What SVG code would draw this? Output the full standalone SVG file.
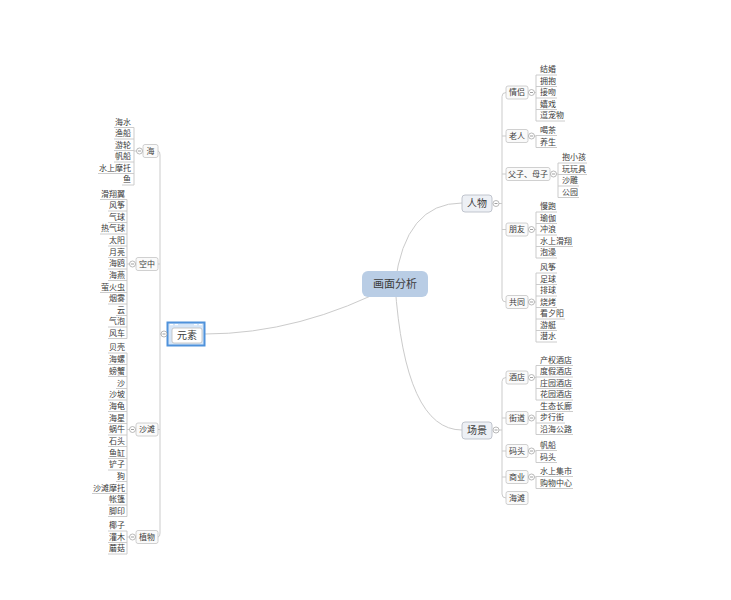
<svg xmlns="http://www.w3.org/2000/svg" xmlns:xlink="http://www.w3.org/1999/xlink" width="731" height="600" viewBox="0 0 731 600">
<style>
text{font-family:"Liberation Sans","Noto Sans CJK SC",sans-serif;dominant-baseline:central;fill:#3c3c3c}
.l{font-size:8px}
.e{text-anchor:end}
.m{text-anchor:middle}
.ln{fill:none;stroke:#cbcbcb;stroke-width:1}
.u{fill:none;stroke:#c6c6c6;stroke-width:0.9}
.bx{fill:#fafafa;stroke:#c4c4c4;stroke-width:0.8}
.mb{fill:#edf0f5;stroke:#babec8;stroke-width:0.9}
.cc{fill:#fff;stroke:#9c9c9c;stroke-width:0.7}
</style>
<defs>
<g id="cl"><circle r="3" class="cc"/><path d="M-1.5 0H1.5" stroke="#777" stroke-width="0.7"/></g>
</defs>
<rect width="731" height="600" fill="#fff"/>
<g id="connectors">
<path class="ln" d="M395 284Q405 203 462 203"/>
<path class="ln" d="M395 284Q405 430 462 430"/>
<path class="ln" d="M395 284Q300 334 205 334"/>
<!-- 人物 -->
<path class="ln" d="M499 203.5H502M506 92.5Q502 92.5 502 96.5V298Q502 302 506 302M502 136H506M502 174H506M502 229.5H506"/>
<!-- 场景 -->
<path class="ln" d="M499 430H502M506 377.5Q502 377.5 502 381.5V494Q502 498 506 498M502 418H506M502 451H506M502 477H506"/>
<!-- 元素 -->
<path class="ln" d="M161 334H160M158 151Q160 151 160 155V533Q160 537 158 537M158 264H160M158 429.5H160"/>
<!-- right leaf spines -->
<path class="ln" d="M534.5 92.5H536M536 75V121"/>
<path class="ln" d="M534.5 136H536M536 135.5V147.5"/>
<path class="ln" d="M556.5 174H558M558 163V197.5"/>
<path class="ln" d="M534.5 229.5H536M536 212V258"/>
<path class="ln" d="M534.5 302H536M536 273V342"/>
<path class="ln" d="M534.5 377.5H536M536 365.5V400"/>
<path class="ln" d="M534.5 418H536M536 411.5V434.5"/>
<path class="ln" d="M534.5 451H536M536 450.5V462.5"/>
<path class="ln" d="M534.5 477H536M536 476.5V488.5"/>
<!-- left leaf spines -->
<path class="ln" d="M136.5 151H134M134 127.5V185"/>
<path class="ln" d="M129.5 264H127M127 199.5V338.5"/>
<path class="ln" d="M129.5 429.5H127M127 353V516.5"/>
<path class="ln" d="M129.5 537H127M127 531V554"/>
</g>

<g id="center"><rect x="362" y="271" width="66" height="26" rx="6" fill="#b9cde5"/><text class="m" x="395" y="284" font-size="11">画面分析</text></g>

<g id="renwu"><rect class="mb" x="462" y="195" width="30" height="17" rx="3"/><text class="m" x="477" y="203.5" font-size="10">人物</text><use href="#cl" x="496" y="203.5"/></g>
<g id="changjing"><rect class="mb" x="462" y="422" width="30" height="17" rx="3"/><text class="m" x="477" y="430.5" font-size="10">场景</text><use href="#cl" x="496" y="430"/></g>
<g id="yuansu"><rect x="167.5" y="322.5" width="37" height="23" fill="#d6e6f8" stroke="#4f92db" stroke-width="2"/><rect x="170" y="324" width="3" height="1.2" fill="#fff"/><rect x="175" y="324" width="3" height="1.2" fill="#fff"/><rect x="194" y="324" width="3" height="1.2" fill="#fff"/><rect x="199" y="324" width="3" height="1.2" fill="#fff"/><rect x="172" y="328" width="30" height="15" rx="2" fill="#fff" stroke="#bcbcbc" stroke-width="0.8"/><text class="m" x="187" y="335.5" font-size="10">元素</text><use href="#cl" x="164" y="334"/></g>

<!-- 人物 subtopics -->
<g id="qinglv"><rect class="bx" x="506" y="86" width="22" height="13" rx="2"/><text class="l m" x="517" y="92.5">情侣</text><use href="#cl" x="531.5" y="92.5"/></g>
<g id="laoren"><rect class="bx" x="506" y="129.5" width="22" height="13" rx="2"/><text class="l m" x="517" y="136">老人</text><use href="#cl" x="531.5" y="136"/></g>
<g id="fuzi"><rect class="bx" x="506" y="167.5" width="44" height="13" rx="2"/><text class="l m" x="528" y="174">父子、母子</text><use href="#cl" x="553.5" y="174"/></g>
<g id="pengyou"><rect class="bx" x="506" y="223" width="22" height="13" rx="2"/><text class="l m" x="517" y="229.5">朋友</text><use href="#cl" x="531.5" y="229.5"/></g>
<g id="gongtong"><rect class="bx" x="506" y="295.5" width="22" height="13" rx="2"/><text class="l m" x="517" y="302">共同</text><use href="#cl" x="531.5" y="302"/></g>
<!-- 场景 subtopics -->
<g id="jiudian"><rect class="bx" x="506" y="371" width="22" height="13" rx="2"/><text class="l m" x="517" y="377.5">酒店</text><use href="#cl" x="531.5" y="377.5"/></g>
<g id="jiedao"><rect class="bx" x="506" y="411.5" width="22" height="13" rx="2"/><text class="l m" x="517" y="418">街道</text><use href="#cl" x="531.5" y="418"/></g>
<g id="matou"><rect class="bx" x="506" y="444.5" width="22" height="13" rx="2"/><text class="l m" x="517" y="451">码头</text><use href="#cl" x="531.5" y="451"/></g>
<g id="shangye"><rect class="bx" x="506" y="470.5" width="22" height="13" rx="2"/><text class="l m" x="517" y="477">商业</text><use href="#cl" x="531.5" y="477"/></g>
<g id="haitan"><rect class="bx" x="506" y="491.5" width="22" height="13" rx="2"/><text class="l m" x="517" y="498">海滩</text></g>
<!-- 元素 subtopics -->
<g id="hai"><rect class="bx" x="143" y="144.5" width="15" height="13" rx="2"/><text class="l m" x="150.5" y="151">海</text><use href="#cl" x="139.5" y="151"/></g>
<g id="kongzhong"><rect class="bx" x="136" y="257.5" width="22" height="13" rx="2"/><text class="l m" x="147" y="264">空中</text><use href="#cl" x="132.5" y="264"/></g>
<g id="shatan"><rect class="bx" x="136" y="423" width="22" height="13" rx="2"/><text class="l m" x="147" y="429.5">沙滩</text><use href="#cl" x="132.5" y="429.5"/></g>
<g id="zhiwu"><rect class="bx" x="136" y="530.5" width="22" height="13" rx="2"/><text class="l m" x="147" y="537">植物</text><use href="#cl" x="132.5" y="537"/></g>

<!-- right leaves -->
<g id="r-jiehun"><text class="l" x="540" y="69.5">结婚</text><path class="u" d="M536 75H557"/></g>
<g id="r-yongbao"><text class="l" x="540" y="81">拥抱</text><path class="u" d="M536 86.5H557"/></g>
<g id="r-jiewen"><text class="l" x="540" y="92.5">接吻</text><path class="u" d="M536 98H557"/></g>
<g id="r-xixi"><text class="l" x="540" y="104">嬉戏</text><path class="u" d="M536 109.5H557"/></g>
<g id="r-douchongwu"><text class="l" x="540" y="115.5">逗宠物</text><path class="u" d="M536 121H565"/></g>
<g id="r-hecha"><text class="l" x="540" y="130">喝茶</text><path class="u" d="M536 135.5H557"/></g>
<g id="r-yangsheng"><text class="l" x="540" y="142">养生</text><path class="u" d="M536 147.5H557"/></g>
<g id="r-baoxiaohai"><text class="l" x="562" y="157.5">抱小孩</text><path class="u" d="M558 163H587"/></g>
<g id="r-wanwanju"><text class="l" x="562" y="169">玩玩具</text><path class="u" d="M558 174.5H587"/></g>
<g id="r-shadiao"><text class="l" x="562" y="180.5">沙雕</text><path class="u" d="M558 186H579"/></g>
<g id="r-gongyuan"><text class="l" x="562" y="192">公园</text><path class="u" d="M558 197.5H579"/></g>
<g id="r-manpao"><text class="l" x="540" y="206.5">慢跑</text><path class="u" d="M536 212H557"/></g>
<g id="r-yujia"><text class="l" x="540" y="218">瑜伽</text><path class="u" d="M536 223.5H557"/></g>
<g id="r-chonglang"><text class="l" x="540" y="229.5">冲浪</text><path class="u" d="M536 235H557"/></g>
<g id="r-shuishanghuaxiang"><text class="l" x="540" y="241">水上滑翔</text><path class="u" d="M536 246.5H573"/></g>
<g id="r-paozao"><text class="l" x="540" y="252.5">泡澡</text><path class="u" d="M536 258H557"/></g>
<g id="r-fengzheng"><text class="l" x="540" y="267.5">风筝</text><path class="u" d="M536 273H557"/></g>
<g id="r-zuqiu"><text class="l" x="540" y="279">足球</text><path class="u" d="M536 284.5H557"/></g>
<g id="r-paiqiu"><text class="l" x="540" y="290.5">排球</text><path class="u" d="M536 296H557"/></g>
<g id="r-shaokao"><text class="l" x="540" y="302">烧烤</text><path class="u" d="M536 307.5H557"/></g>
<g id="r-kanxiyang"><text class="l" x="540" y="313.5">看夕阳</text><path class="u" d="M536 319H565"/></g>
<g id="r-youting"><text class="l" x="540" y="325">游艇</text><path class="u" d="M536 330.5H557"/></g>
<g id="r-qianshui"><text class="l" x="540" y="336.5">潜水</text><path class="u" d="M536 342H557"/></g>
<g id="r-chanquan"><text class="l" x="540" y="360">产权酒店</text><path class="u" d="M536 365.5H573"/></g>
<g id="r-dujia"><text class="l" x="540" y="371.5">度假酒店</text><path class="u" d="M536 377H573"/></g>
<g id="r-zhuangyuan"><text class="l" x="540" y="383">庄园酒店</text><path class="u" d="M536 388.5H573"/></g>
<g id="r-huayuan"><text class="l" x="540" y="394.5">花园酒店</text><path class="u" d="M536 400H573"/></g>
<g id="r-shengtai"><text class="l" x="540" y="406">生态长廊</text><path class="u" d="M536 411.5H573"/></g>
<g id="r-buxingjie"><text class="l" x="540" y="417.5">步行街</text><path class="u" d="M536 423H565"/></g>
<g id="r-yanhai"><text class="l" x="540" y="429">沿海公路</text><path class="u" d="M536 434.5H573"/></g>
<g id="r-fanchuan2"><text class="l" x="540" y="445">帆船</text><path class="u" d="M536 450.5H557"/></g>
<g id="r-matou2"><text class="l" x="540" y="457">码头</text><path class="u" d="M536 462.5H557"/></g>
<g id="r-jishi"><text class="l" x="540" y="471">水上集市</text><path class="u" d="M536 476.5H573"/></g>
<g id="r-gouwu"><text class="l" x="540" y="483">购物中心</text><path class="u" d="M536 488.5H573"/></g>

<!-- left leaves: 海 -->
<g id="l-haishui"><text class="l e" x="131" y="122">海水</text><path class="u" d="M114 127.5H134"/></g>
<g id="l-yuchuan"><text class="l e" x="131" y="133.5">渔船</text><path class="u" d="M114 139H134"/></g>
<g id="l-youlun"><text class="l e" x="131" y="145">游轮</text><path class="u" d="M114 150.5H134"/></g>
<g id="l-fanchuan"><text class="l e" x="131" y="156.5">帆船</text><path class="u" d="M114 162H134"/></g>
<g id="l-motuo"><text class="l e" x="131" y="168">水上摩托</text><path class="u" d="M98 173.5H134"/></g>
<g id="l-yu"><text class="l e" x="131" y="179.5">鱼</text><path class="u" d="M122 185H134"/></g>
<!-- 空中 -->
<g id="l-huaxiangyi"><text class="l e" x="125" y="194">滑翔翼</text><path class="u" d="M100 199.5H127"/></g>
<g id="l-fengzheng"><text class="l e" x="125" y="205.5">风筝</text><path class="u" d="M108 211H127"/></g>
<g id="l-qiqiu"><text class="l e" x="125" y="217">气球</text><path class="u" d="M108 222.5H127"/></g>
<g id="l-reqiqiu"><text class="l e" x="125" y="228.5">热气球</text><path class="u" d="M100 234H127"/></g>
<g id="l-taiyang"><text class="l e" x="125" y="240.5">太阳</text><path class="u" d="M108 246H127"/></g>
<g id="l-yueliang"><text class="l e" x="125" y="252">月亮</text><path class="u" d="M108 257.5H127"/></g>
<g id="l-haiou"><text class="l e" x="125" y="263.5">海鸥</text><path class="u" d="M108 269H127"/></g>
<g id="l-haiyan"><text class="l e" x="125" y="275">海燕</text><path class="u" d="M108 280.5H127"/></g>
<g id="l-yinghuochong"><text class="l e" x="125" y="287">萤火虫</text><path class="u" d="M100 292.5H127"/></g>
<g id="l-yanwu"><text class="l e" x="125" y="298.5">烟雾</text><path class="u" d="M108 304H127"/></g>
<g id="l-yun"><text class="l e" x="125" y="310">云</text><path class="u" d="M116 315.5H127"/></g>
<g id="l-qipao"><text class="l e" x="125" y="321.5">气泡</text><path class="u" d="M108 327H127"/></g>
<g id="l-fengche"><text class="l e" x="125" y="333">风车</text><path class="u" d="M108 338.5H127"/></g>
<!-- 沙滩 -->
<g id="l-beike"><text class="l e" x="125" y="347.5">贝壳</text><path class="u" d="M108 353H127"/></g>
<g id="l-hailuo"><text class="l e" x="125" y="359">海螺</text><path class="u" d="M108 364.5H127"/></g>
<g id="l-pangxie"><text class="l e" x="125" y="371">螃蟹</text><path class="u" d="M108 376.5H127"/></g>
<g id="l-sha"><text class="l e" x="125" y="383">沙</text><path class="u" d="M116 388.5H127"/></g>
<g id="l-shapo"><text class="l e" x="125" y="394.5">沙坡</text><path class="u" d="M108 400H127"/></g>
<g id="l-haigui"><text class="l e" x="125" y="406">海龟</text><path class="u" d="M108 411.5H127"/></g>
<g id="l-haixing"><text class="l e" x="125" y="418">海星</text><path class="u" d="M108 423.5H127"/></g>
<g id="l-woniu"><text class="l e" x="125" y="429.5">蜗牛</text><path class="u" d="M108 435H127"/></g>
<g id="l-shitou"><text class="l e" x="125" y="441">石头</text><path class="u" d="M108 446.5H127"/></g>
<g id="l-yugang"><text class="l e" x="125" y="453">鱼缸</text><path class="u" d="M108 458.5H127"/></g>
<g id="l-chanzi"><text class="l e" x="125" y="464.5">铲子</text><path class="u" d="M108 470H127"/></g>
<g id="l-gou"><text class="l e" x="125" y="476">狗</text><path class="u" d="M116 481.5H127"/></g>
<g id="l-shatanmotuo"><text class="l e" x="125" y="488">沙滩摩托</text><path class="u" d="M92 493.5H127"/></g>
<g id="l-zhangpeng"><text class="l e" x="125" y="499.5">帐篷</text><path class="u" d="M108 505H127"/></g>
<g id="l-jiaoyin"><text class="l e" x="125" y="511">脚印</text><path class="u" d="M108 516.5H127"/></g>
<!-- 植物 -->
<g id="l-yezi"><text class="l e" x="125" y="525.5">椰子</text><path class="u" d="M108 531H127"/></g>
<g id="l-guanmu"><text class="l e" x="125" y="537">灌木</text><path class="u" d="M108 542.5H127"/></g>
<g id="l-mogu"><text class="l e" x="125" y="548.5">蘑菇</text><path class="u" d="M108 554H127"/></g>
</svg>
